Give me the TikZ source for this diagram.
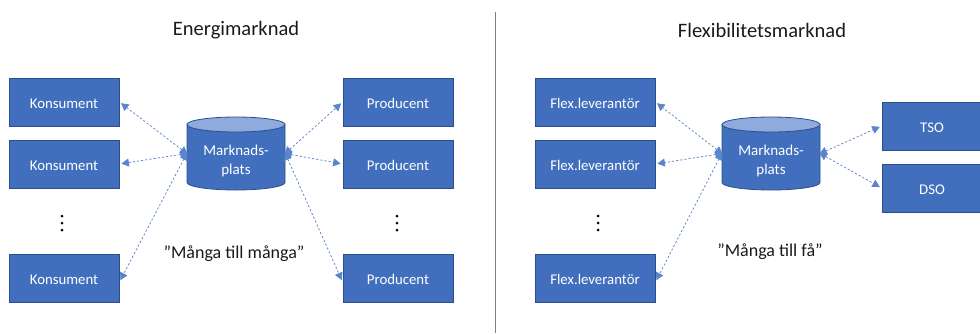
\documentclass[tikz,border=0pt]{standalone}
\usepackage{fontspec}
\setmainfont{Carlito}
\usetikzlibrary{arrows.meta}

\definecolor{boxblue}{HTML}{416FBD}
\definecolor{boxedge}{HTML}{2C4F8C}
\definecolor{toplight}{HTML}{8FAADC}
\definecolor{linkblue}{HTML}{5B84CC}
\definecolor{rulegray}{HTML}{808080}
\definecolor{inktext}{HTML}{1A1A1A}

% Drum-shaped market place: #1 = centre x, #2 = node name
\newcommand\marketdrum[2]{%
  \node[inner sep=0pt, minimum width=98pt, minimum height=73pt] (#2) at (#1,153.5) {};
  \filldraw[fill=boxblue, draw=boxedge, line width=0.8pt]
    (#1-49,124.5) -- (#1-49,182.5)
    arc[start angle=180, end angle=360, x radius=49pt, y radius=7.5pt]
    -- (#1+49,124.5) -- cycle;
  \filldraw[fill=toplight, draw=boxedge, line width=0.8pt]
    (#1,124.5) ellipse[x radius=49pt, y radius=7.5pt];
  \node[align=center, text=white, font=\fontsize{15}{19}\selectfont] at (#1,161) {Marknads-\\plats};
}

% Vertical ellipsis made of three dots
\newcommand\vdotsmark[1]{%
  \foreach \yy in {216,223,230} \fill[black] (#1,\yy) circle[radius=1.5pt];
}

\begin{document}
\begin{tikzpicture}[x=1pt, y=-1pt,
  actor/.style={draw=boxedge, line width=0.8pt, fill=boxblue, text=white,
    minimum height=48pt, inner sep=0pt, text height=13.5pt, text depth=0pt,
    font=\fontsize{14.8}{17}\selectfont},
  link/.style={draw=linkblue, line width=0.75pt, dash pattern=on 2.2pt off 2pt,
    {Triangle[length=7.5pt,width=8pt]}-{Triangle[length=7.5pt,width=8pt]},
    shorten <=-1pt, shorten >=2pt},
  heading/.style={text=inktext, font=\fontsize{20.5}{24}\selectfont},
  caption/.style={text=inktext, font=\fontsize{18}{22}\selectfont}]

\useasboundingbox (0,0) rectangle (980,333);

% ---------- Energy market ----------
\node[heading] (t1) at (236,30) {Energimarknad};

\node[actor, minimum width=110pt] (k1) at (64,102) {Konsument};
\node[actor, minimum width=110pt] (k2) at (64,164) {Konsument};
\node[actor, minimum width=110pt] (k3) at (64,278) {Konsument};
\vdotsmark{62}

\node[actor, minimum width=110pt] (p1) at (398,102) {Producent};
\node[actor, minimum width=110pt] (p2) at (398,164) {Producent};
\node[actor, minimum width=110pt] (p3) at (398,278) {Producent};
\vdotsmark{397}

\marketdrum{236}{m1}

\draw[link] (m1.west) -- (k1.east);
\draw[link] (m1.west) -- (k2.east);
\draw[link] (m1.west) -- ([yshift=-4pt]k3.east);
\draw[link] (m1.east) -- (p1.west);
\draw[link] (m1.east) -- (p2.west);
\draw[link] (m1.east) -- ([yshift=-4pt]p3.west);

\node[caption] (c1) at (234,254) {”Många till många”};

% ---------- Divider ----------
\coordinate (d1) at (495,12);
\coordinate (d2) at (495,333);
\draw[rulegray, line width=1pt] (d1) -- (d2);

% ---------- Flexibility market ----------
\node[heading] (t2) at (762,30) {Flexibilitetsmarknad};

\node[actor, minimum width=120pt] (f1) at (595,102) {Flex.leverantör};
\node[actor, minimum width=120pt] (f2) at (595,164) {Flex.leverantör};
\node[actor, minimum width=120pt] (f3) at (595,278) {Flex.leverantör};
\vdotsmark{598}

\node[actor, minimum width=100pt] (tso) at (932,126) {TSO};
\node[actor, minimum width=100pt] (dso) at (932,188) {DSO};

\marketdrum{771}{m2}

\draw[link] (m2.west) -- (f1.east);
\draw[link] (m2.west) -- (f2.east);
\draw[link] (m2.west) -- ([yshift=-4pt]f3.east);
\draw[link] (m2.east) -- (tso.west);
\draw[link] (m2.east) -- (dso.west);

\node[caption] (c2) at (770,252) {”Många till få”};

\end{tikzpicture}
\end{document}
